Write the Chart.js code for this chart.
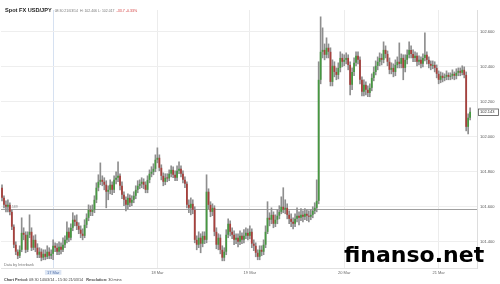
<!DOCTYPE html>
<html>
<head>
<meta charset="utf-8">
<script src="https://cdn.jsdelivr.net/npm/chart.js@4.4.1/dist/chart.umd.min.js"></script>
<style>
  body { margin: 0; background: #fff; font-family: "Liberation Sans", Arial, sans-serif; }
  #page { position: relative; width: 500px; height: 284px; overflow: hidden; }
  #wrap { position: absolute; left: 0; top: 0; width: 500px; height: 284px; }
  .hdr { position: absolute; left: 5px; top: 3px; white-space: nowrap; line-height: 7px; }
  .hdr b { font-size: 5.6px; color: #222; }
  .hdr .info { font-size: 3.5px; color: #777; margin-left: 3px; }
  .hdr .chg { font-size: 3.6px; color: #d23b3b; margin-left: 2px; }
  .foot { position: absolute; left: 4px; top: 277px; font-size: 3.8px; color: #444; white-space: nowrap; line-height: 6px; }
  .mark { position: absolute; left: 344px; top: 244px; font-family: "DejaVu Sans", sans-serif; font-weight: bold;
          font-size: 22px; line-height: 22px; color: #000; white-space: nowrap; }
</style>
</head>
<body>
<div id="page">
  <div id="wrap"><canvas id="chart"></canvas></div>
  <div class="hdr"><b>Spot FX USD/JPY</b><span class="info">08:30 21/03/14 &nbsp;H: 102.406 L: 102.017</span><span class="chg">-33.7 -0.33%</span></div>
  <div class="foot"><b>Chart Period:</b> 08:30 14/03/14 - 15:30 21/03/14 &nbsp;&nbsp;<b>Resolution:</b> 30 mins</div>
  <div class="mark">finanso.net</div>
</div>
<script>
  // 30 min candles, USD/JPY, 14-21 Mar 2014 (opens = previous close)
  const firstOpen = 101.709;

  const closes = [
    101.651,101.611,101.600,101.611,101.571,101.486,101.383,101.343,101.320,101.354,
    101.451,101.440,101.354,101.440,101.457,101.366,101.411,101.366,101.326,101.343,
    101.309,101.331,101.314,101.343,101.320,101.331,101.377,101.366,101.343,101.371,
    101.354,101.383,101.411,101.457,101.423,101.480,101.526,101.514,101.491,101.469,
    101.446,101.434,101.497,101.537,101.583,101.571,101.583,101.640,101.709,101.743,
    101.754,101.743,101.726,101.686,101.697,101.726,101.697,101.754,101.766,101.777,
    101.720,101.669,101.640,101.611,101.651,101.623,101.640,101.663,101.697,101.720,
    101.731,101.743,101.726,101.697,101.754,101.789,101.800,101.817,101.869,101.880,
    101.823,101.777,101.743,101.766,101.762,101.789,101.811,101.783,101.766,101.806,
    101.817,101.789,101.754,101.731,101.611,101.594,101.617,101.583,101.411,101.383,
    101.423,101.389,101.434,101.411,101.686,101.611,101.571,101.594,101.457,101.383,
    101.423,101.354,101.309,101.343,101.440,101.503,101.457,101.440,101.411,101.423,
    101.400,101.434,101.411,101.434,101.451,101.434,101.457,101.389,101.377,101.337,
    101.314,101.354,101.343,101.383,101.457,101.537,101.526,101.554,101.503,101.526,
    101.549,101.571,101.600,101.583,101.594,101.554,101.531,101.514,101.503,101.531,
    101.549,101.537,101.554,101.543,101.560,101.549,101.543,101.554,101.577,101.594,
    101.634,102.326,102.486,102.497,102.469,102.509,102.486,102.314,102.406,102.371,
    102.354,102.394,102.451,102.429,102.440,102.451,102.411,102.297,102.371,102.423,
    102.463,102.440,102.326,102.257,102.297,102.269,102.251,102.280,102.337,102.371,
    102.406,102.429,102.451,102.440,102.497,102.474,102.429,102.383,102.394,102.371,
    102.411,102.429,102.417,102.451,102.394,102.440,102.469,102.497,102.474,102.451,
    102.463,102.429,102.440,102.417,102.451,102.469,102.440,102.417,102.406,102.411,
    102.394,102.360,102.326,102.349,102.337,102.343,102.354,102.343,102.349,102.360,
    102.349,102.366,102.377,102.366,102.383,102.354,102.057,102.109,102.143
  ];

  const highs = [
    101.726,101.663,101.634,101.640,101.623,101.583,101.497,101.400,101.354,101.377,
    101.537,101.480,101.457,101.457,101.554,101.480,101.434,101.440,101.389,101.366,
    101.360,101.354,101.354,101.377,101.366,101.354,101.411,101.394,101.389,101.400,
    101.394,101.423,101.434,101.514,101.480,101.503,101.566,101.549,101.554,101.509,
    101.491,101.474,101.526,101.560,101.611,101.606,101.611,101.663,101.737,101.783,
    101.851,101.777,101.766,101.749,101.720,101.754,101.743,101.777,101.800,101.857,
    101.789,101.743,101.686,101.657,101.674,101.669,101.663,101.686,101.720,101.749,
    101.754,101.766,101.760,101.743,101.777,101.811,101.829,101.846,101.897,101.937,
    101.897,101.840,101.794,101.789,101.789,101.811,101.834,101.829,101.806,101.834,
    101.857,101.834,101.806,101.771,101.743,101.640,101.651,101.640,101.600,101.434,
    101.457,101.446,101.457,101.457,101.783,101.703,101.629,101.617,101.606,101.480,
    101.446,101.440,101.377,101.366,101.469,101.531,101.520,101.480,101.463,101.446,
    101.446,101.463,101.451,101.469,101.480,101.474,101.491,101.474,101.411,101.394,
    101.354,101.377,101.377,101.411,101.491,101.629,101.566,101.594,101.571,101.554,
    101.583,101.606,101.657,101.709,101.640,101.617,101.577,101.560,101.537,101.560,
    101.594,101.571,101.589,101.577,101.589,101.583,101.577,101.583,101.600,101.623,
    101.754,102.429,102.686,102.623,102.531,102.566,102.531,102.509,102.440,102.429,
    102.394,102.423,102.486,102.474,102.469,102.480,102.469,102.429,102.394,102.451,
    102.486,102.486,102.457,102.343,102.326,102.314,102.291,102.303,102.360,102.400,
    102.434,102.457,102.480,102.474,102.543,102.520,102.491,102.451,102.423,102.417,
    102.440,102.457,102.537,102.474,102.469,102.469,102.497,102.543,102.520,102.497,
    102.486,102.480,102.463,102.457,102.474,102.594,102.486,102.457,102.434,102.434,
    102.429,102.411,102.377,102.371,102.366,102.360,102.377,102.366,102.366,102.383,
    102.371,102.389,102.394,102.394,102.406,102.400,102.371,102.131,102.166
  ];

  const lows = [
    101.634,101.594,101.571,101.571,101.554,101.469,101.366,101.326,101.303,101.309,
    101.343,101.411,101.337,101.343,101.423,101.349,101.354,101.343,101.309,101.309,
    101.291,101.297,101.297,101.303,101.303,101.303,101.297,101.343,101.326,101.326,
    101.331,101.343,101.366,101.394,101.400,101.411,101.463,101.491,101.469,101.446,
    101.423,101.411,101.423,101.480,101.520,101.549,101.549,101.566,101.623,101.691,
    101.726,101.720,101.697,101.594,101.640,101.674,101.669,101.680,101.731,101.743,
    101.697,101.646,101.606,101.577,101.589,101.600,101.606,101.623,101.646,101.680,
    101.703,101.709,101.703,101.680,101.680,101.737,101.771,101.783,101.800,101.851,
    101.806,101.754,101.720,101.726,101.743,101.749,101.771,101.766,101.749,101.749,
    101.789,101.771,101.737,101.709,101.594,101.566,101.554,101.560,101.394,101.354,
    101.366,101.337,101.371,101.389,101.394,101.589,101.543,101.549,101.434,101.360,
    101.354,101.331,101.291,101.291,101.326,101.423,101.434,101.417,101.383,101.389,
    101.371,101.383,101.389,101.394,101.417,101.411,101.417,101.366,101.349,101.314,
    101.297,101.297,101.320,101.326,101.366,101.446,101.491,101.503,101.480,101.486,
    101.503,101.531,101.560,101.566,101.560,101.531,101.503,101.486,101.474,101.486,
    101.514,101.497,101.520,101.514,101.526,101.520,101.514,101.526,101.537,101.560,
    101.571,101.617,102.303,102.451,102.440,102.451,102.451,102.291,102.291,102.343,
    102.326,102.331,102.371,102.400,102.406,102.417,102.383,102.240,102.269,102.349,
    102.406,102.417,102.303,102.234,102.234,102.240,102.229,102.229,102.263,102.320,
    102.354,102.383,102.406,102.411,102.423,102.451,102.406,102.360,102.360,102.343,
    102.349,102.394,102.394,102.394,102.326,102.371,102.417,102.451,102.451,102.429,
    102.429,102.406,102.411,102.394,102.400,102.434,102.417,102.394,102.383,102.389,
    102.371,102.337,102.303,102.309,102.314,102.320,102.326,102.326,102.326,102.331,
    102.326,102.331,102.349,102.349,102.354,102.337,102.034,102.017,102.097
  ];

  const yTicks = [101.4, 101.6, 101.8, 102.0, 102.2, 102.4, 102.6];
  const dayTickIndex = [26, 79, 126, 174, 222];
  const dayTickLabels = ['17 Mar', '18 Mar', '19 Mar', '20 Mar', '21 Mar'];
  const prevClose = 101.589;
  const emptySlots = 3;

  const green = '#469841';
  const red = '#a8403c';
  const wickColor = '#8e8e8e';

  const labels = [];
  for (let i = 0; i < closes.length + emptySlots; i++) labels.push(i);
  const opens = [firstOpen].concat(closes.slice(0, -1));
  const bodies = closes.map((c, i) => [opens[i], c]);
  const wicks = closes.map((c, i) => [lows[i], highs[i]]);
  const bodyColors = closes.map((c, i) => c >= opens[i] ? green : red);

  const fmt = v => v.toFixed(3);

  const extras = {
    id: 'extras',
    beforeDatasetsDraw(chart) {
      const { ctx, chartArea: a, scales: { y } } = chart;
      const py = Math.round(y.getPixelForValue(prevClose)) + 0.5;
      ctx.save();
      ctx.strokeStyle = '#a0a0a0';
      ctx.lineWidth = 1;
      ctx.beginPath();
      ctx.moveTo(a.left, py);
      ctx.lineTo(a.right, py);
      ctx.stroke();
      ctx.fillStyle = '#888';
      ctx.font = '3.5px "Liberation Sans", Arial, sans-serif';
      ctx.textBaseline = 'bottom';
      ctx.fillText(fmt(prevClose), a.left + 4, py - 1);
      ctx.fillStyle = '#777';
      ctx.font = '3.8px "Liberation Sans", Arial, sans-serif';
      ctx.fillText('Data by Interbank', a.left + 3, a.bottom - 1);
      ctx.restore();
    },
    afterDraw(chart) {
      const { ctx, chartArea: a, scales: { y } } = chart;
      const last = closes[closes.length - 1];
      const py = Math.round(y.getPixelForValue(last));
      ctx.save();
      ctx.fillStyle = '#fff';
      ctx.strokeStyle = '#555';
      ctx.lineWidth = 0.8;
      ctx.fillRect(a.right + 1, py - 3.5, 21, 7);
      ctx.strokeRect(a.right + 1.5, py - 3, 20, 6.5);
      ctx.fillStyle = '#333';
      ctx.font = '4px "Liberation Sans", Arial, sans-serif';
      ctx.textBaseline = 'middle';
      ctx.fillText(fmt(last), a.right + 3, py + 0.3);
      ctx.restore();
    }
  };

  Chart.defaults.font.family = '"Liberation Sans", Arial, sans-serif';

  new Chart(document.getElementById('chart'), {
    type: 'bar',
    data: {
      labels: labels,
      datasets: [{
        label: 'wick',
        data: wicks,
        backgroundColor: wickColor,
        barThickness: 1,
        grouped: false,
        order: 2
      }, {
        label: 'body',
        data: bodies,
        backgroundColor: bodyColors,
        barPercentage: 0.9,
        categoryPercentage: 1,
        minBarLength: 1,
        grouped: false,
        order: 1
      }]
    },
    options: {
      responsive: true,
      maintainAspectRatio: false,
      animation: false,
      layout: { padding: { top: 10, left: 1, right: 0, bottom: 0 } },
      plugins: { legend: { display: false }, tooltip: { enabled: false } },
      scales: {
        x: {
          offset: true,
          afterFit: s => { s.height = 16; },
          border: { display: true, color: '#e2e2e2' },
          grid: {
            offset: false,
            drawTicks: false,
            color: c => {
              const k = dayTickIndex.indexOf(c.tick ? c.tick.value : -1);
              if (k === 0) return '#d6e1f1';
              return k > 0 ? '#ececec' : 'rgba(0,0,0,0)';
            }
          },
          ticks: {
            autoSkip: false,
            maxRotation: 0,
            padding: 2,
            font: { size: 4 },
            color: c => c.tick && c.tick.value === dayTickIndex[0] ? '#4f6fa8' : '#666',
            showLabelBackdrop: c => c.tick && c.tick.value === dayTickIndex[0],
            backdropColor: '#dde6f4',
            backdropPadding: { top: 0, bottom: 0, left: 2, right: 2 },
            callback: (v, i) => {
              const k = dayTickIndex.indexOf(i);
              return k >= 0 ? dayTickLabels[k] : '';
            }
          }
        },
        y: {
          position: 'right',
          min: 101.25,
          max: 102.725,
          afterFit: s => { s.width = 23; },
          afterBuildTicks: s => { s.ticks = yTicks.map(v => ({ value: v })); },
          border: { display: true, color: '#dddddd' },
          grid: { color: '#eeeeee', drawTicks: false },
          ticks: {
            padding: 3,
            font: { size: 4 },
            color: '#555',
            callback: v => fmt(v)
          }
        }
      }
    },
    plugins: [extras]
  });
</script>
</body>
</html>
